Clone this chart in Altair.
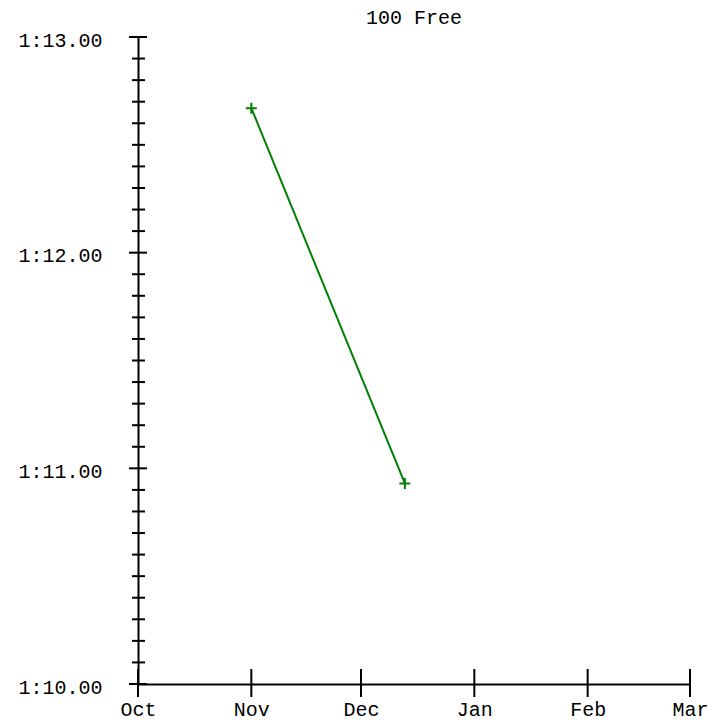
import altair as alt
import pandas as pd

# data
dates = ["2018-11-01", "2018-12-13"]
times_sec = [72.67, 70.93]  # 1:12.67, 1:10.93

month_starts = ["2018-10-01", "2018-11-01", "2018-12-01", "2019-01-01", "2019-02-01", "2019-03-01"]
major_ticks = [70, 71, 72, 73]
minor_ticks = [round(70 + i / 10, 1) for i in range(31) if i % 10]

W, H = 552, 647
FONT = "Liberation Mono"

df = pd.DataFrame({"date": dates, "t": times_sec})
df_month = pd.DataFrame({"date": month_starts})
df_major = pd.DataFrame({"t": major_ticks})
df_minor = pd.DataFrame({"t": minor_ticks})

xscale = alt.Scale(type="utc", domain=[alt.DateTime(year=2018, month=10, date=1, utc=True),
                                        alt.DateTime(year=2019, month=3, date=1, utc=True)])
yscale = alt.Scale(domain=[70, 73], nice=False, zero=False)

xaxis = alt.Axis(
    title=None, format="%b", grid=False, ticks=False, tickSize=0,
    values=[alt.DateTime(year=int(d[:4]), month=int(d[5:7]), date=1, utc=True) for d in month_starts],
    labelFont=FONT, labelFontSize=20, labelColor="black", labelBaseline="alphabetic",
    labelPadding=31, labelFlush=False, labelOverlap=False,
    domainColor="black", domainWidth=2,
)
yaxis = alt.Axis(
    title=None, grid=False, ticks=False, tickSize=0, values=major_ticks,
    labelExpr="floor(datum.value/60) + ':' + format(datum.value % 60, '05.2f')",
    labelFont=FONT, labelFontSize=20, labelColor="black", labelBaseline="alphabetic",
    labelOffset=9, labelPadding=36, labelOverlap=False,
    domainColor="black", domainWidth=2,
)

line = alt.Chart(df).mark_line(color="#008000", strokeWidth=2).encode(
    x=alt.X("date:T", scale=xscale, axis=xaxis),
    y=alt.Y("t:Q", scale=yscale, axis=yaxis),
)
pts = alt.Chart(df).mark_point(
    shape="M-1,0L1,0M0,-1L0,1", size=121, filled=False, color="#008000", strokeWidth=2, opacity=1
).encode(x="date:T", y="t:Q")

xt = alt.Chart(df_month).mark_rule(color="black", strokeWidth=2).encode(
    x="date:T", y=alt.value(H - 15), y2=alt.value(H + 13)
)
ymaj = alt.Chart(df_major).mark_rule(color="black", strokeWidth=2).encode(
    y="t:Q", x=alt.value(-9), x2=alt.value(9)
)
ymin = alt.Chart(df_minor).mark_rule(color="black", strokeWidth=2).encode(
    y="t:Q", x=alt.value(-6), x2=alt.value(7)
)

chart = alt.layer(line, xt, ymaj, ymin, pts).properties(
    width=W, height=H,
    title=alt.TitleParams("100 Free", font=FONT, fontSize=20, fontWeight="normal",
                          color="black", anchor="middle", offset=2),
    autosize=alt.AutoSizeParams(type="none"),
    padding={"left": 130, "top": 29, "right": 29, "bottom": 36},
).configure_view(stroke=None)

chart.save("out.html", embed_options={"renderer": "svg", "actions": False})
